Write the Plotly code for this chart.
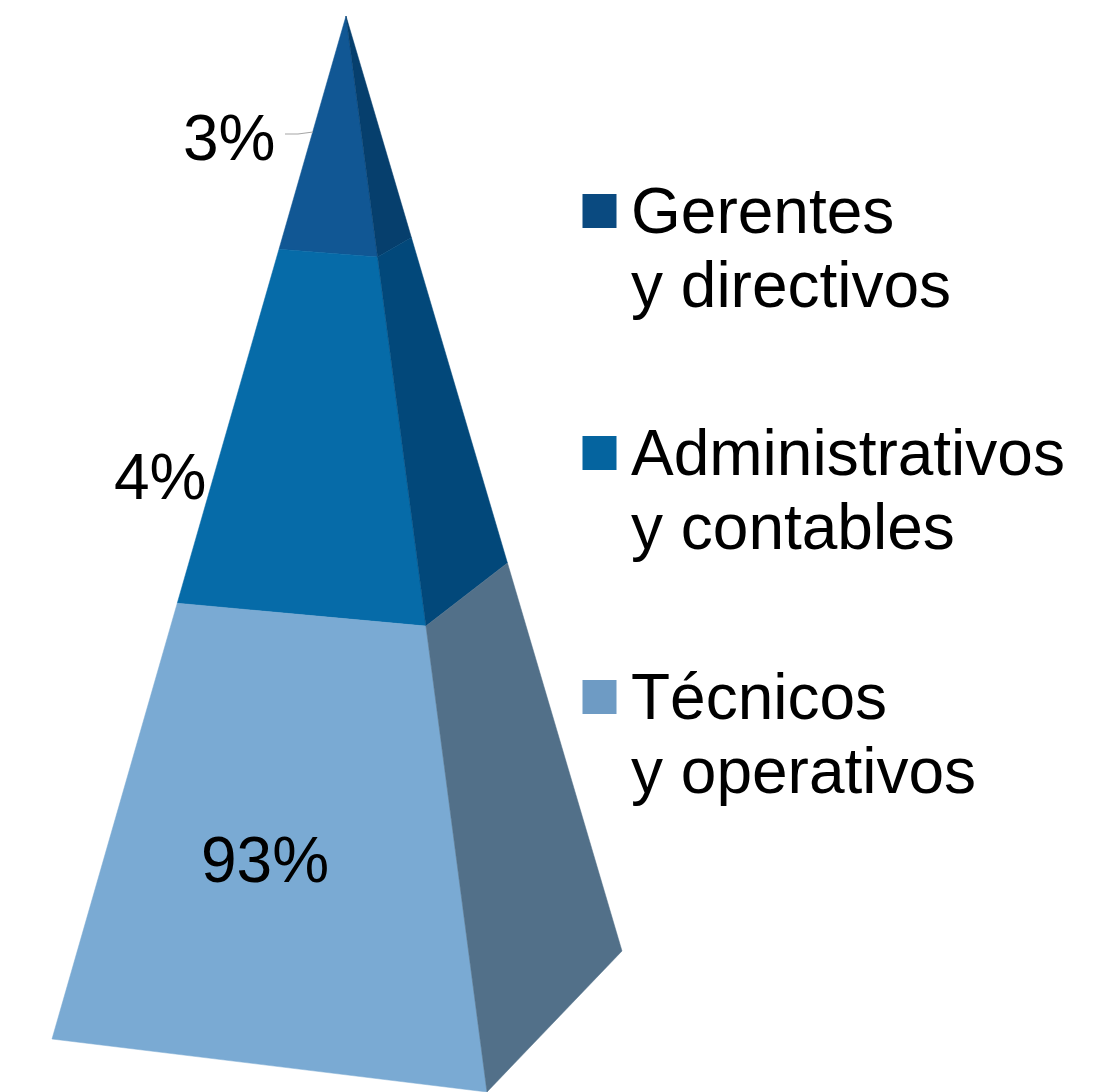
import plotly.graph_objects as go

# Chart content
categories = [["Gerentes", "y directivos"], ["Administrativos", "y contables"], ["Técnicos", "y operativos"]]
shares = ["3%", "4%", "93%"]
front_colors = ["#115794", "#066ba8", "#7aaad3"]
side_colors = ["#063f6d", "#02487a", "#527089"]
swatch_colors = ["#0a4a80", "#05649f", "#6e9bc4"]

# Pyramid outline
apex = (346, 16)
left_corner = (52, 1039)
front_corner = (487, 1092)
right_corner = (622, 951)
# Where each band ends along each edge (fraction of the edge from the apex)
left_breaks = [0.228, 0.574, 1.0]
front_breaks = [0.224, 0.567, 1.0]
right_breaks = [0.237, 0.585, 1.0]

legend_y = [211, 453, 697]
label_pos = [(229, 138), (160, 477), (265, 860)]
line_gap = 74


def along(corner, t):
    return (apex[0] + (corner[0] - apex[0]) * t, apex[1] + (corner[1] - apex[1]) * t)


def band(c1, b1, c2, b2, i):
    t1 = b1[i - 1] if i else 0
    t2 = b2[i - 1] if i else 0
    pts = [along(c1, t1), along(c2, t2), along(c2, b2[i]), along(c1, b1[i])]
    pts.append(pts[0])
    return [p[0] for p in pts], [p[1] for p in pts]


fig = go.Figure()
for i, cat in enumerate(categories):
    for c1, b1, c2, b2, col in [
        (left_corner, left_breaks, front_corner, front_breaks, front_colors[i]),
        (front_corner, front_breaks, right_corner, right_breaks, side_colors[i]),
    ]:
        x, y = band(c1, b1, c2, b2, i)
        fig.add_trace(go.Scatter(x=x, y=y, mode="lines", fill="toself", fillcolor=col,
                                 line=dict(color=col, width=0.5), hoverinfo="skip"))

# Leader line of the smallest share
fig.add_trace(go.Scatter(x=[285, 298, 313], y=[134, 134, 132], mode="lines",
                         line=dict(color="#a6a6a6", width=1.2), hoverinfo="skip"))

# Legend swatches
fig.add_trace(go.Scatter(x=[599.5] * 3, y=legend_y, mode="markers",
                         marker=dict(symbol="square", size=34, color=swatch_colors, line=dict(width=0)),
                         hoverinfo="skip"))

font = dict(family="Liberation Sans, Arial, sans-serif", size=64, color="#000000")
for (lx, ly), s in zip(label_pos, shares):
    fig.add_annotation(x=lx, y=ly, text=s, showarrow=False, font=font, xanchor="center", yanchor="middle")
for ly, lines in zip(legend_y, categories):
    for k, line in enumerate(lines):
        fig.add_annotation(x=630, y=ly + k * line_gap, text=line, showarrow=False, font=font,
                           xanchor="left", yanchor="middle", borderpad=0)

fig.update_layout(
    width=1097, height=1092, autosize=False, showlegend=False,
    margin=dict(l=0, r=0, t=0, b=0), paper_bgcolor="white", plot_bgcolor="white",
    xaxis=dict(range=[0, 1097], visible=False, fixedrange=True),
    yaxis=dict(range=[1092, 0], visible=False, fixedrange=True),
)
fig.write_html("out.html", config=dict(displayModeBar=False),
               post_script="document.body.style.margin='0';document.body.style.overflow='hidden';")
